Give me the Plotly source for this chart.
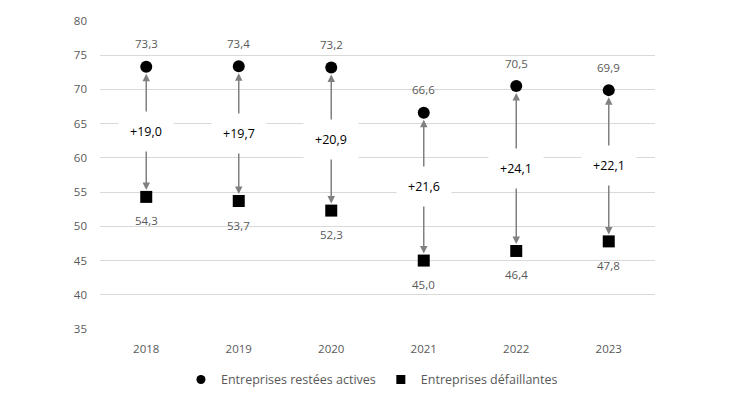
import plotly.graph_objects as go

years = ["2018", "2019", "2020", "2021", "2022", "2023"]
actives = [73.3, 73.4, 73.2, 66.6, 70.5, 69.9]
defaillantes = [54.3, 53.7, 52.3, 45.0, 46.4, 47.8]
ecarts = [19.0, 19.7, 20.9, 21.6, 24.1, 22.1]
series_names = ["Entreprises restées actives", "Entreprises défaillantes"]

def fr(v, sign=False):
    s = f"{v:.1f}".replace(".", ",")
    return ("+" + s) if sign else s

FONT = "Open Sans"
GRAY = "#595959"

fig = go.Figure()
fig.add_trace(go.Scatter(
    x=years, y=actives, mode="markers", name=series_names[0], showlegend=False,
    marker=dict(symbol="circle", size=12, color="black"),
))
fig.add_trace(go.Scatter(
    x=years, y=defaillantes, mode="markers", name=series_names[1], showlegend=False,
    marker=dict(symbol="square", size=12, color="black"),
))
# legend entries (smaller symbols, as in the reference)
fig.add_trace(go.Scatter(
    x=[None], y=[None], mode="markers", name=series_names[0],
    marker=dict(symbol="circle", size=9, color="black"),
))
fig.add_trace(go.Scatter(
    x=[None], y=[None], mode="markers", name=series_names[1],
    marker=dict(symbol="square", size=9, color="black"),
))

annotations = []
for i, (a, d) in enumerate(zip(actives, defaillantes)):
    mid = (a + d) / 2
    for head in (a, d):
        annotations.append(dict(
            x=i, y=head, ax=i, ay=mid, xref="x", yref="y", axref="x", ayref="y",
            text="", showarrow=True, arrowhead=2, arrowsize=1, arrowwidth=1.5,
            arrowcolor="#808080", standoff=7,
        ))
for i, (a, d, e) in enumerate(zip(actives, defaillantes, ecarts)):
    mid = (a + d) / 2
    annotations.append(dict(
        x=i, y=mid, xref="x", yref="y", text=fr(e, True), showarrow=False,
        font=dict(family=FONT, size=12.5, color="black"),
        bgcolor="white", borderpad=11,
    ))
    annotations.append(dict(
        x=i, y=a, xref="x", yref="y", text=fr(a), showarrow=False, yshift=23,
        font=dict(family=FONT, size=11.5, color=GRAY),
    ))
    annotations.append(dict(
        x=i, y=d, xref="x", yref="y", text=fr(d), showarrow=False, yshift=-24,
        font=dict(family=FONT, size=11.5, color=GRAY),
    ))

fig.update_layout(
    width=730, height=410,
    margin=dict(l=100, r=75, t=21, b=81),
    paper_bgcolor="white", plot_bgcolor="white",
    font=dict(family=FONT, size=11.5, color=GRAY),
    showlegend=True,
    legend=dict(orientation="h", x=0.49, xanchor="center", y=-0.165, yanchor="middle",
                itemwidth=30, font=dict(family=FONT, size=12.5, color=GRAY)),
    xaxis=dict(type="category", range=[-0.5, 5.5], showgrid=False, showline=False,
               zeroline=False, ticks="", ticklabelstandoff=11,
               tickfont=dict(family=FONT, size=11.5, color=GRAY)),
    yaxis=dict(range=[35, 80], dtick=5, showgrid=True, gridcolor="#d9d9d9", gridwidth=1,
               showline=False, zeroline=False, ticks="", ticklabelstandoff=12,
               tickfont=dict(family=FONT, size=11.5, color=GRAY)),
    annotations=annotations,
)

fig.write_html("out.html", config={"displayModeBar": False},
               post_script="document.body.style.margin='0';")
